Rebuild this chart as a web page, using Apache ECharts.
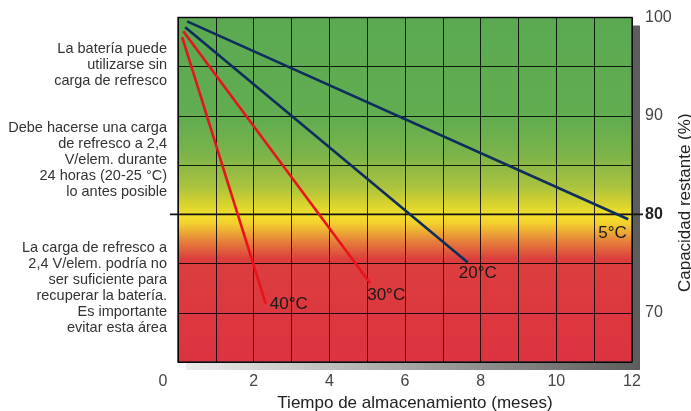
<!DOCTYPE html>
<html><head><meta charset="utf-8">
<script src="https://cdn.jsdelivr.net/npm/echarts@6/dist/echarts.min.js"></script>
<style>html,body{margin:0;padding:0;background:#fff}#c{width:691px;height:411px}</style>
</head><body><div id="c"></div>
<script>
// ---- data ----
const seriesNames = ['5°C', '20°C', '30°C', '40°C'];
const line5 = [[0.24, 99.6], [11.9, 79.5]];
const line20 = [[0.19, 99.0], [7.66, 75.1]];
const line30 = [[0.14, 98.6], [5.08, 73.0]];
const line40 = [[0.11, 98.0], [2.32, 70.9]];
const xLabelValues = [0, 2, 4, 6, 8, 10, 12];
const yLabelValues = [100, 90, 80, 70];
const threshold = 80;
const zoneTexts = [
  'La batería puede\nutilizarse sin\ncarga de refresco',
  'Debe hacerse una carga\nde refresco a 2,4\nV/elem. durante\n24 horas (20-25 °C)\nlo antes posible',
  'La carga de refresco a\n2,4 V/elem. podría no\nser suficiente para\nrecuperar la batería.\nEs importante\nevitar esta área'
];
const xName = 'Tiempo de almacenamiento (meses)';
const yName = 'Capacidad restante (%)';

const FONT = 'Liberation Sans, Arial, sans-serif';
const chart = echarts.init(document.getElementById('c'));

const bg = {
  type: 'linear', x: 0, y: 0, x2: 0, y2: 1,
  colorStops: [
    {offset: 0, color: '#5aa952'},
    {offset: 0.30, color: '#62ad50'},
    {offset: 0.40, color: '#7db44a'},
    {offset: 0.49, color: '#aac23e'},
    {offset: 0.54, color: '#d6d22e'},
    {offset: 0.575, color: '#f4e02c'},
    {offset: 0.60, color: '#f2cc2e'},
    {offset: 0.645, color: '#e6863a'},
    {offset: 0.70, color: '#dc3e3e'},
    {offset: 1, color: '#dc3340'}
  ]
};
const shadow = {
  type: 'linear', x: 0, y: 0, x2: 1, y2: 0,
  colorStops: [{offset: 0, color: '#ececec'}, {offset: 1, color: '#5c5c5c'}]
};

function mkSeries(name, data, color, off) {
  return {
    name, type: 'line', data, xAxisIndex: 0, yAxisIndex: 0,
    symbol: 'none', lineStyle: {color, width: 2.6}, z: 5,
    endLabel: {show: true, formatter: name, color: '#1a1a1a', fontSize: 17,
      fontFamily: FONT, align: 'left', verticalAlign: 'middle', distance: 0, offset: off},
    animation: false
  };
}

chart.setOption({
  animation: false,
  grid: [
    {left: 178, right: 59, top: 17.5, bottom: 49, show: true, backgroundColor: bg,
      borderColor: '#222', borderWidth: 1.5, containLabel: false, outerBoundsMode: 'none'},
    {left: 186, right: 51, top: 25.5, bottom: 41, show: true, backgroundColor: shadow,
      borderWidth: 0, z: -1, containLabel: false, outerBoundsMode: 'none'}
  ],
  xAxis: [
    {type: 'value', gridIndex: 0, min: 0, max: 12, interval: 1,
      name: xName, nameLocation: 'middle', nameGap: 33, nameMoveOverlap: false,
      nameTextStyle: {fontSize: 17, color: '#222', fontFamily: FONT, padding: [0, 0, 0, 20]},
      axisLine: {show: false}, axisTick: {show: false},
      axisLabel: {interval: 0, margin: 12, color: '#444', fontSize: 16, fontFamily: FONT,
        formatter: v => xLabelValues.includes(v) ? (v === 0 ? '{z|0}' : String(v)) : '',
        rich: {z: {padding: [0, 30, 0, 0], fontSize: 16, color: '#444', fontFamily: FONT}}},
      splitLine: {show: true, lineStyle: {color: 'rgba(0,0,0,0.85)', width: 1}}},
    {type: 'value', gridIndex: 1, min: 0, max: 12, show: false}
  ],
  yAxis: [
    {type: 'value', gridIndex: 0, position: 'right', min: 65, max: 100, interval: 5,
      name: yName, nameLocation: 'middle', nameGap: 45, nameRotate: 90, nameMoveOverlap: false,
      nameTextStyle: {fontSize: 17, color: '#222', fontFamily: FONT, padding: [0, 26, 0, 0]},
      axisLine: {show: false}, axisTick: {show: false},
      axisLabel: {margin: 13, color: '#444', fontSize: 16, fontFamily: FONT,
        formatter: v => yLabelValues.includes(v) ? (v === threshold ? '{b|' + v + '}' : String(v)) : '',
        rich: {b: {fontWeight: 'bold', color: '#222', fontSize: 16, fontFamily: FONT}}},
      splitLine: {show: true, lineStyle: {color: 'rgba(0,0,0,0.85)', width: 1}}},
    {type: 'value', gridIndex: 1, min: 65, max: 100, show: false}
  ],
  series: [
    mkSeries(seriesNames[0], line5, '#0e2d5c', [-30, 14]),
    mkSeries(seriesNames[1], line20, '#0e2d5c', [-9, 11]),
    mkSeries(seriesNames[2], line30, '#e8131c', [-3, 12]),
    mkSeries(seriesNames[3], line40, '#e8131c', [4, 0])
  ]
});

const y80 = chart.convertToPixel({yAxisIndex: 0}, threshold);
const x0 = chart.convertToPixel({xAxisIndex: 0}, 0);
const x12 = chart.convertToPixel({xAxisIndex: 0}, 12);
const tops = [41, 120, 240];
chart.setOption({
  graphic: [
    {type: 'line', shape: {x1: x0 - 8, y1: y80, x2: x12 + 11, y2: y80},
      style: {stroke: '#111', lineWidth: 1.6}, z: 4}
  ].concat(zoneTexts.map((t, i) => ({
    type: 'text', x: x0 - 11, y: tops[i],
    style: {text: t, textAlign: 'right', textVerticalAlign: 'top', fill: '#333',
      fontSize: 14.5, lineHeight: 16, fontFamily: FONT}
  })))
});
</script></body></html>
